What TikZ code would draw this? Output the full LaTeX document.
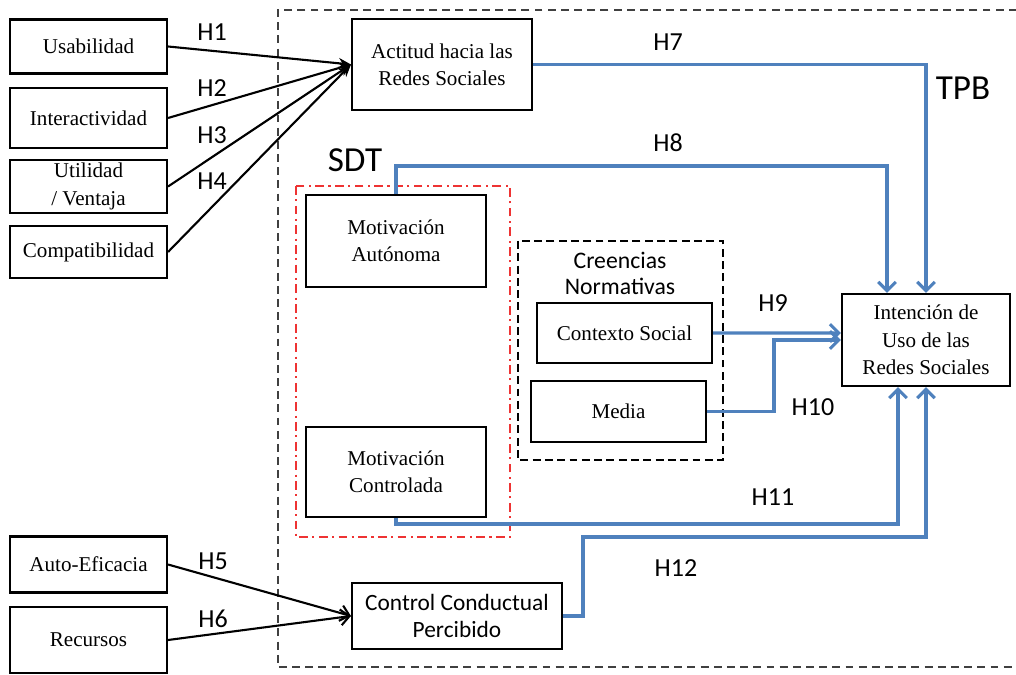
\documentclass[tikz,border=0pt]{standalone}
\usepackage{fontspec}
\setmainfont{Liberation Serif}
\newfontfamily\calibri{Carlito}
\usetikzlibrary{arrows.meta}

\begin{document}
\begin{tikzpicture}[x=0.02cm,y=-0.02cm]
% Define colors
\definecolor{colorline}{HTML}{4F81BD}
\definecolor{colorsdt}{HTML}{EE3333}
\definecolor{colorframe}{HTML}{404040}
\tikzset{
  caja/.style={draw, line width=1.2pt, align=center, inner sep=0pt, font=\fontsize{12}{15.5}\selectfont},
  cajasans/.style={caja, font=\calibri\fontsize{13.3}{15}\selectfont},
  flecha/.style={draw=colorline, line width=1.8pt, -{Straight Barb[length=5pt,width=10pt]}},
  negra/.style={line width=1.2pt, -{Stealth[length=7pt,width=6pt]}},
  hlabel/.style={font=\calibri\fontsize{14.8}{16}\selectfont},
  teoria/.style={font=\calibri\fontsize{20}{22}\selectfont},
}
\useasboundingbox (0,0) rectangle (1016,675);
  %%%%%%%%%% Frames
  \draw[colorframe, line width=0.9pt, dash pattern=on 4.5pt off 3pt] (1030,10) -- (278,10) -- (278,667) -- (1030,667);
  \draw[colorsdt, line width=1.1pt, dash pattern=on 5pt off 2.5pt on 1.2pt off 2.5pt] (296,186) rectangle (510,537);
  \draw[line width=1pt, dash pattern=on 4.5pt off 2.5pt] (518,241) rectangle (723,460);
  \node[teoria] (SDT) at (355,160) {SDT};
  \node[teoria] (TPB) at (963,88) {TPB};
  \node[font=\calibri\fontsize{13.5}{14.8}\selectfont, align=center] (CN) at (620,273) {Creencias\\Normativas};
  % Define nodes
  \node[caja, minimum width=3.14cm, minimum height=1.08cm] (Usab) at (88.5,46.5) {Usabilidad};
  \node[caja, minimum width=3.14cm, minimum height=1.2cm] (Inter) at (88.5,118) {Interactividad};
  \node[caja, minimum width=3.14cm, minimum height=1.06cm] (Util) at (88.5,186.5) {Utilidad\\/ Ventaja};
  \node[caja, minimum width=3.14cm, minimum height=1.04cm] (Compat) at (88.5,252) {Compatibilidad};
  \node[caja, minimum width=3.14cm, minimum height=1.12cm] (AutoE) at (88.5,564.5) {Auto-Eficacia};
  \node[caja, minimum width=3.14cm, minimum height=1.32cm] (Recursos) at (88.5,640) {Recursos};
  \node[caja, minimum width=3.6cm, minimum height=1.82cm] (Actitud) at (442,64.5) {Actitud hacia las\\Redes Sociales};
  \node[caja, minimum width=3.6cm, minimum height=1.84cm] (MotA) at (396,241) {Motivación\\Autónoma};
  \node[caja, minimum width=3.6cm, minimum height=1.8cm] (MotC) at (396,472) {Motivación\\Controlada};
  \node[caja, minimum width=3.5cm, minimum height=1.2cm] (Contexto) at (624.5,333) {Contexto Social};
  \node[caja, minimum width=3.5cm, minimum height=1.22cm] (Media) at (618.5,411.5) {Media};
  \node[caja, minimum width=3.36cm, minimum height=1.84cm] (Intencion) at (926,340) {Intención de\\Uso de las\\Redes Sociales};
  \node[cajasans, minimum width=4.2cm, minimum height=1.32cm] (Control) at (457,616) {Control Conductual\\Percibido};
  % Draw arrows
  \draw[negra] (Usab.east) -- (Actitud.west);
  \draw[negra] (Inter.east) -- (Actitud.west);
  \draw[negra] (Util.east) -- (Actitud.west);
  \draw[negra] (Compat.east) -- (Actitud.west);
  \draw[negra, -{Straight Barb[length=5pt,width=9pt]}] (AutoE.east) -- (Control.west);
  \draw[negra, -{Straight Barb[length=5pt,width=9pt]}] (Recursos.east) -- (Control.west);
  \draw[flecha] (Actitud.east) -| (Intencion.north);
  \draw[flecha] (MotA.north) -- ++(0,-28) -| ([xshift=-0.78cm]Intencion.north);
  \draw[flecha] (Contexto.east) -- ([yshift=0.14cm]Intencion.west);
  \draw[flecha] (Media.east) -- ++(67,0) |- (Intencion.west);
  \draw[flecha] (MotC.south) -- ++(0,6) -| ([xshift=-0.56cm]Intencion.south);
  \draw[flecha] (Control.east) -- ++(20,0) -- ++(0,-79) -| (Intencion.south);
  % Labels
  \node[hlabel] (h1) at (212,32) {H1};
  \node[hlabel] (h2) at (212,88) {H2};
  \node[hlabel] (h3) at (212,135) {H3};
  \node[hlabel] (h4) at (212,181) {H4};
  \node[hlabel] (h5) at (213,561) {H5};
  \node[hlabel] (h6) at (213,619) {H6};
  \node[hlabel] (h7) at (668,42) {H7};
  \node[hlabel] (h8) at (668,143) {H8};
  \node[hlabel] (h9) at (773,303) {H9};
  \node[hlabel] (h10) at (813,407) {H10};
  \node[hlabel] (h11) at (773,497) {H11};
  \node[hlabel] (h12) at (676,568) {H12};
\end{tikzpicture}
\end{document}
